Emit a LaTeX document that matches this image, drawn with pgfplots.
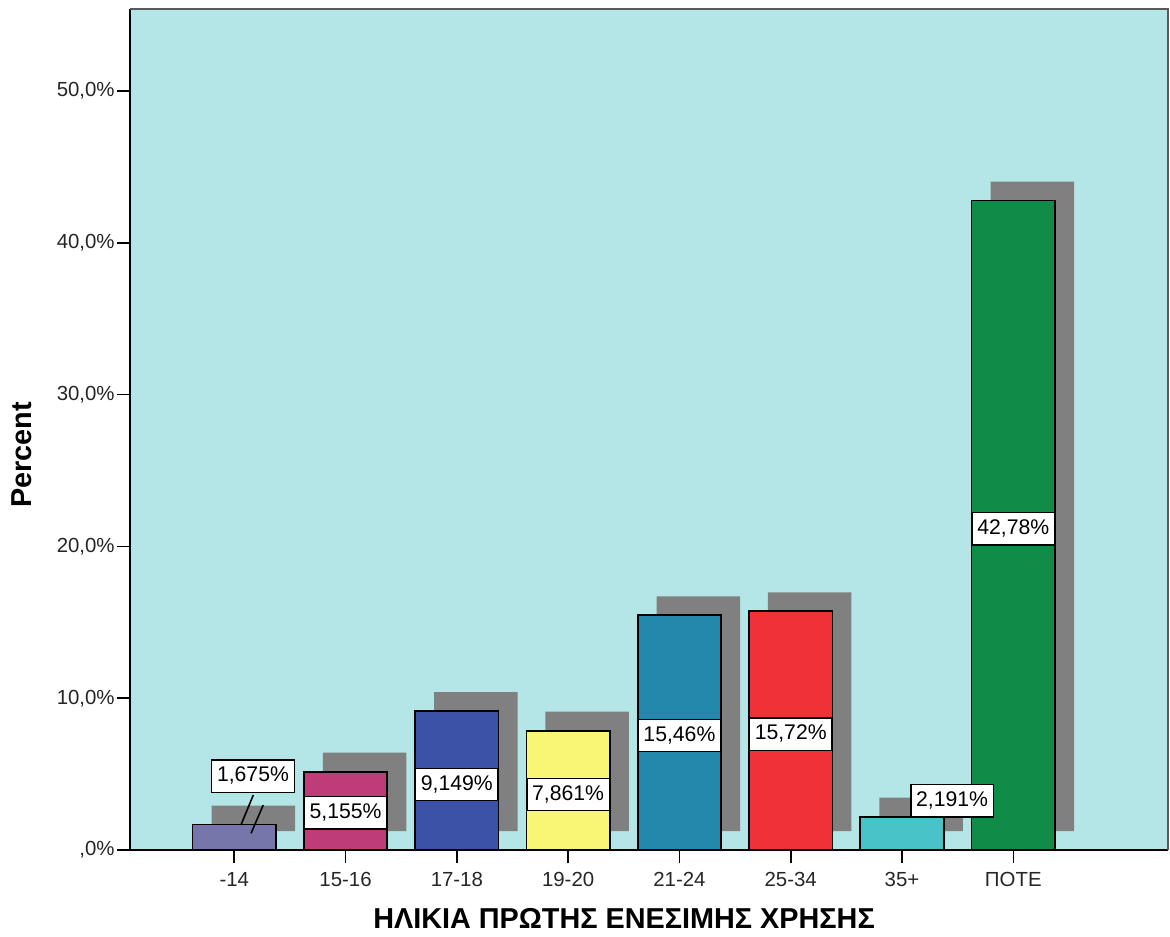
\documentclass[border=0pt]{standalone}
\usepackage{pgfplots}
\pgfplotsset{compat=1.18}
\usepackage{pgfplotstable}
\usepackage{fontspec}
\setmainfont{Liberation Sans}
\definecolor{bgc}{RGB}{180,230,231}
\definecolor{shd}{RGB}{128,128,128}
\definecolor{ca}{RGB}{118,118,171}
\definecolor{cb}{RGB}{190,60,120}
\definecolor{cc}{RGB}{60,82,167}
\definecolor{cd}{RGB}{250,246,117}
\definecolor{ce}{RGB}{36,136,172}
\definecolor{cf}{RGB}{238,50,56}
\definecolor{cg}{RGB}{72,195,200}
\definecolor{ch}{RGB}{16,140,72}
\pgfplotstableread{
x y
0 1.675
1 5.155
2 9.149
3 7.861
4 15.46
5 15.72
6 2.191
7 42.78
}\datatable
\begin{document}
\begin{tikzpicture}
\useasboundingbox (-65pt,-43pt) rectangle (520pt,425pt);
\begin{axis}[
  scale only axis, width=519pt, height=420.5pt,
  xmin=-0.937, xmax=8.39, ymin=0, ymax=55.4,
  axis background/.style={fill=bgc},
  axis x line*=bottom, axis y line*=left,
  axis line style={black, line width=0.8pt, -},
  tick align=outside, major tick length=6.5pt,
  tick style={black, line width=0.8pt},
  xtick={0,1,2,3,4,5,6,7},
  xticklabels={-14,15-16,17-18,19-20,21-24,25-34,35+,ΠΟΤΕ},
  ytick={0,10,20,30,40,50},
  yticklabels={{,0\%},{10,0\%},{20,0\%},{30,0\%},{40,0\%},{50,0\%}},
  ticklabel style={font=\fontsize{10.2}{12}\selectfont, color=black!85},
  yticklabel style={inner sep=1pt},
  xticklabel style={yshift=-1pt},
  ylabel={Percent},
  xlabel={ΗΛΙΚΙΑ ΠΡΩΤΗΣ ΕΝΕΣΙΜΗΣ ΧΡΗΣΗΣ},
  label style={font=\fontsize{14.4}{17}\selectfont\bfseries},
  ylabel style={at={(axis description cs:-0.104,0.47)}, anchor=center},
  xlabel style={at={(axis description cs:0.476,-0.081)}, anchor=center},
  clip=false,
]
% frame top/right
\draw[gray!70!black, line width=1pt] (axis cs:-0.937,55.4) -- (axis cs:8.39,55.4) -- (axis cs:8.39,0);
% shadows
\addplot[ybar, bar width=0.75, bar shift=0pt, fill=shd, draw=none, xshift=9.5pt, yshift=9.5pt] table[x=x,y=y] {\datatable};
% bars
\addplot[ybar, bar width=0.75, bar shift=0pt, fill=ca, draw=black, line width=0.9pt] coordinates {(0,1.675)};
\addplot[ybar, bar width=0.75, bar shift=0pt, fill=cb, draw=black, line width=0.9pt] coordinates {(1,5.155)};
\addplot[ybar, bar width=0.75, bar shift=0pt, fill=cc, draw=black, line width=0.9pt] coordinates {(2,9.149)};
\addplot[ybar, bar width=0.75, bar shift=0pt, fill=cd, draw=black, line width=0.9pt] coordinates {(3,7.861)};
\addplot[ybar, bar width=0.75, bar shift=0pt, fill=ce, draw=black, line width=0.9pt] coordinates {(4,15.46)};
\addplot[ybar, bar width=0.75, bar shift=0pt, fill=cf, draw=black, line width=0.9pt] coordinates {(5,15.72)};
\addplot[ybar, bar width=0.75, bar shift=0pt, fill=cg, draw=black, line width=0.9pt] coordinates {(6,2.191)};
\addplot[ybar, bar width=0.75, bar shift=0pt, fill=ch, draw=black, line width=0.9pt] coordinates {(7,42.78)};
% leader lines for -14
\draw[black, line width=0.8pt] (axis cs:0.171,3.62) -- (axis cs:0.060,1.65);
\draw[black, line width=0.8pt] (axis cs:0.260,2.96) -- (axis cs:0.151,1.10);
% value labels
\addplot[only marks, mark=none, point meta=explicit symbolic,
  nodes near coords,
  nodes near coords style={anchor=center, fill=white, draw=black, line width=0.6pt,
    font=\fontsize{10.6}{12}\selectfont, inner xsep=2.6pt, inner ysep=3.5pt,
    text height=7.5pt, text depth=1.6pt}]
  coordinates {
  (0.168,4.87) [1,675\%]
  (1,2.44) [5,155\%]
  (2,4.30) [9,149\%]
  (3,3.66) [7,861\%]
  (4,7.54) [15,46\%]
  (5,7.64) [15,72\%]
  (6.45,3.23) [2,191\%]
  (7,21.15) [42,78\%]
  };
\end{axis}
\end{tikzpicture}
\end{document}
